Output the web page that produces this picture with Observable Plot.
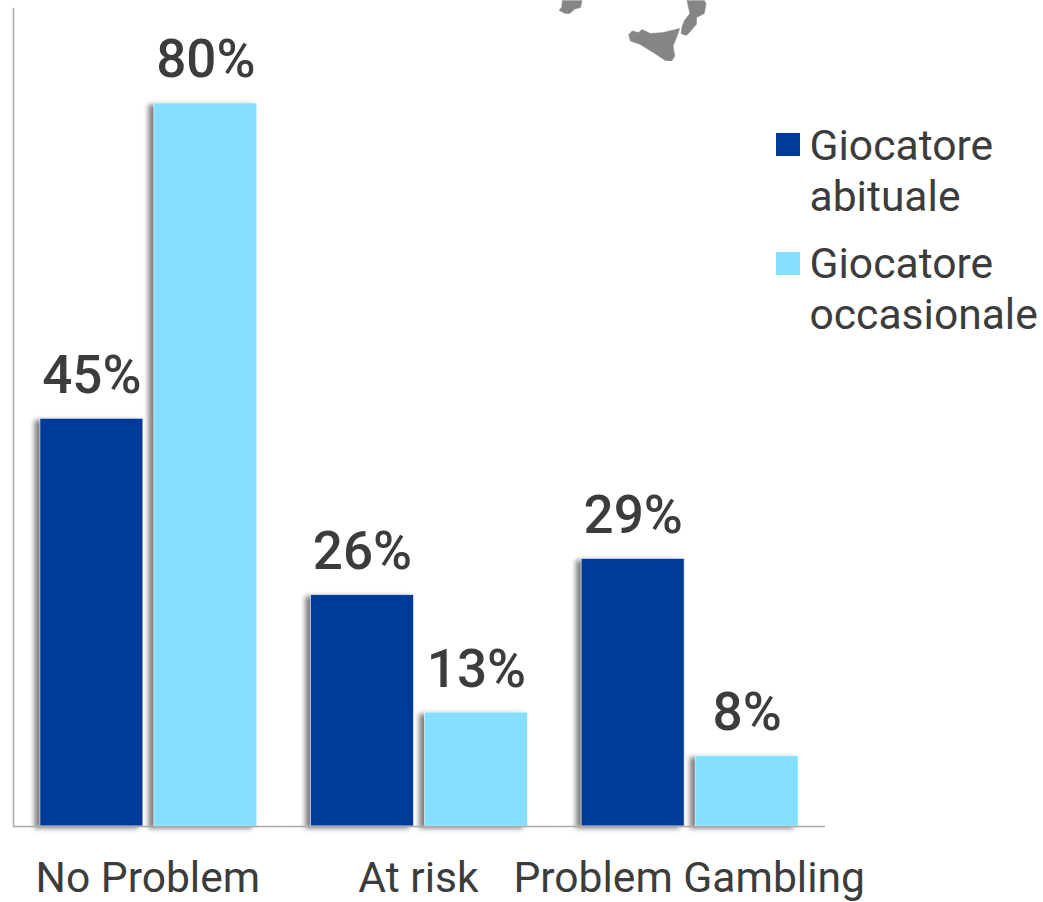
<!DOCTYPE html>
<html><head><meta charset="utf-8">
<script src="https://cdn.jsdelivr.net/npm/d3@7"></script>
<script src="https://cdn.jsdelivr.net/npm/@observablehq/plot@0.6"></script>
<style>
html,body{margin:0;padding:0;background:#fff;overflow:hidden}
#root{position:relative;width:1043px;height:902px;font-family:Roboto,sans-serif;color:#3c3c3c}
#root svg{position:absolute;left:0;top:0}
.sw{position:absolute;left:776px;width:24px;height:23px}
.lg{position:absolute;left:809.5px;font-size:42.6px;line-height:50px;white-space:nowrap}
</style></head><body><div id="root"></div>
<script>
const categories = ["No Problem", "At risk", "Problem Gambling"];
const seriesNames = ["Giocatore abituale", "Giocatore occasionale"];
const abituale = [45.1, 25.6, 29.6];
const occasionale = [80, 12.6, 7.8];
const abitualeLabels = ["45%", "26%", "29%"];
const occasionaleLabels = ["80%", "13%", "8%"];
const colors = ["#003a99", "#85dfff"];
const textColor = "#3c3c3c";

// coastlines as [longitude, latitude], clockwise
const sardinia = [[9.49,39.6],[9.4,39.26],[9.03,39.18],[8.72,38.97],[8.41,38.97],[8.04,39.13],[8.21,39.26],[8.25,39.6],[9.49,39.6]];
const sicily = [[12.45,37.93],[12.66,38.1],[13.07,38.02],[13.28,38.18],[13.8,37.98],[14.62,38.02],[15.66,38.23],[15.45,37.77],[15.24,37.35],[15.35,36.85],[15.14,36.57],[14.73,36.63],[14.0,37.02],[13.17,37.43],[12.55,37.6],[12.45,37.93]];
const calabria = [[17.21,39.6],[17.32,39.44],[17.21,38.97],[16.72,38.77],[16.72,38.44],[16.2,37.97],[16.07,37.88],[15.75,37.97],[15.8,38.3],[15.97,38.63],[16.3,38.97],[16.12,39.6],[17.21,39.6]];
const mapBounds = [[8.04,39.6],[17.32,39.6],[17.32,36.57],[8.04,36.57]];

const rows = categories.flatMap((c, i) => [
  {category: c, series: seriesNames[0], value: abituale[i], label: abitualeLabels[i]},
  {category: c, series: seriesNames[1], value: occasionale[i], label: occasionaleLabels[i]}
]);

const chart = Plot.plot({
  width: 1043, height: 902,
  marginLeft: 13, marginRight: 218, marginTop: 8, marginBottom: 76,
  style: {background: "transparent", fontFamily: "Roboto, sans-serif"},
  fx: {domain: categories, padding: 0, round: false, label: null, axis: null},
  x: {domain: seriesNames, paddingInner: 0.0965, paddingOuter: 0.2355, round: false, axis: null},
  y: {domain: [0, 90.5], axis: null},
  color: {domain: seriesNames, range: colors},
  marks: [
    Plot.frame({anchor: "left", facet: "super", stroke: "#aaa", strokeWidth: 1.5}),
    Plot.barY(rows, {fx: "category", x: "series", y: "value", fill: "series", stroke: "#fff", strokeOpacity: 0.6, strokeWidth: 1,
      imageFilter: "drop-shadow(-5px 2px 2.5px rgba(0,0,0,0.5))"}),
    Plot.ruleY([0], {stroke: "#aaa", strokeWidth: 1.5}),
    Plot.text(rows, {fx: "category", x: "series", y: "value", text: "label", dy: -26, lineAnchor: "bottom", fontSize: 53, fontWeight: 500, fill: textColor}),
    Plot.axisFx({anchor: "bottom", tickSize: 0, tickPadding: 0, label: null, fontSize: 42.6, fill: textColor, dy: 52, dx: -1, lineAnchor: "middle"})
  ]
});

const map = Plot.plot({
  width: 150, height: 61, margin: 0,
  projection: {type: "mercator", domain: {type: "MultiPoint", coordinates: mapBounds}},
  style: {background: "transparent"},
  marks: [Plot.geo({type: "MultiPolygon", coordinates: [[sardinia],[sicily],[calabria]]}, {fill: "#858585", stroke: "#858585", strokeWidth: 0.5})]
});
map.style.left = "557px";

const root = document.getElementById("root");
root.append(chart, map);
const lines = [["Giocatore","abituale"],["Giocatore","occasionale"]];
const tops = [120, 238];
const swTops = [133, 252];
lines.forEach((ls, i) => {
  const s = document.createElement("div");
  s.className = "sw"; s.style.top = swTops[i] + "px"; s.style.background = colors[i];
  root.append(s);
  ls.forEach((t, j) => {
    const d = document.createElement("div");
    d.className = "lg"; d.style.top = (tops[i] + j * 51) + "px"; d.textContent = t;
    root.append(d);
  });
});
</script></body></html>
